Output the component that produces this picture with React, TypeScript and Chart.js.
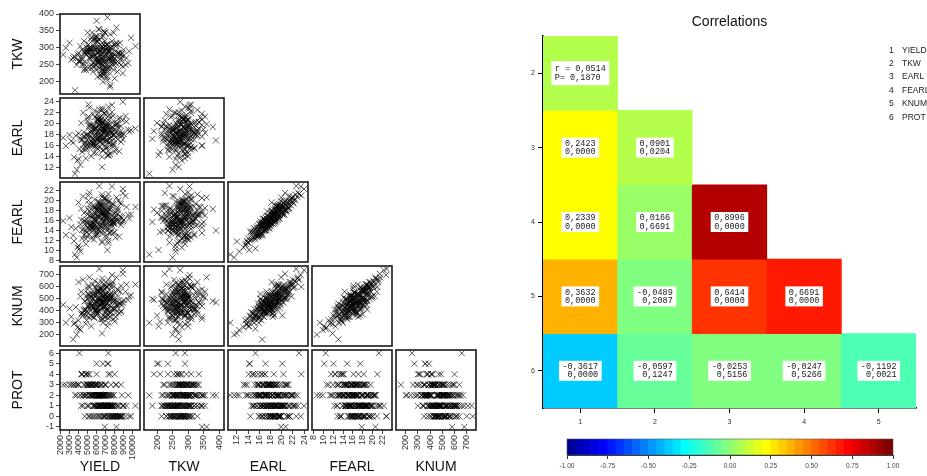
import React, { useEffect, useRef } from 'react';
import { Chart, registerables } from 'chart.js';

Chart.register(...registerables);

const FONT = '"Liberation Sans", Arial, Helvetica, sans-serif';
const MONO = '"Liberation Mono", "Courier New", monospace';

// ---- observations (one value per plant, same order in every array) ----
const YIELD = [
  8800, 4300, 7600, 6200, 5100, 8100, 6900, 5800, 7300, 6600,
  6000, 7100, 5500, 6800, 6500, 3900, 7900, 6900, 4800, 8400,
  6100, 4600, 9300, 8200, 6700, 5200, 5600, 7700, 7000, 6300,
  5700, 7400, 6600, 8600, 5300, 6400, 7200, 4200, 7800, 5900,
  6900, 9000, 4500, 6000, 5400, 7500, 6200, 8000, 6700, 5000,
  6600, 5900, 7000, 7400, 4900, 8300, 6300, 3500, 7600, 5800,
  7100, 4700, 6100, 8700, 5200, 7900, 5600, 6800, 7300, 6500,
  6400, 5700, 8000, 6900, 3800, 7700, 5300, 6600, 7200, 4400,
  9500, 6300, 5100, 7600, 6800, 6000, 7000, 5900, 8500, 6200,
  6700, 7100, 5500, 7400, 6200, 4000, 8100, 6500, 5800, 8900,
  7200, 10300, 3400, 6300, 2300, 3600, 9800, 6700, 4100, 8200,
  5000, 9200, 3000, 7500, 5400, 6900, 6000, 8700, 7300, 4900,
  5200, 7800, 6100, 8900, 4600, 7000, 5600, 6800, 7500, 5900,
  6400, 8300, 4900, 7200, 6000, 6900, 5400, 7700, 4200, 6600,
  8000, 5700, 6300, 7300, 3700, 6700, 5000, 8600, 6200, 7100,
  5500, 7600, 6500, 4400, 6900, 8100, 5800, 7400, 6000, 5300,
  7000, 6400, 8400, 5100, 6700, 7900, 4800, 6200, 7300, 5600,
  6600, 7100, 5900, 8800, 4500, 6800, 7500, 5200, 6100, 7700,
  6300, 5000, 7200, 6900, 8200, 5700, 6600, 4700, 7900, 6000,
  7400, 6100, 5400, 8700, 6500, 5800, 7000, 4300, 6800, 7600,
  5600, 6900, 8100, 6200, 4900, 7300, 6400, 5300, 7800, 6700,
  9600, 3200, 6000, 7500, 2600, 8900, 6600, 5100, 7200, 4000,
  6300, 7700, 5500, 6900, 8300, 4600, 6100, 7100, 5800, 6500,
  7400, 5200, 8500, 6700, 4800, 7000, 6200, 7900, 5600, 6400,
];
const TKW = [
  285, 270, 300, 255, 290, 310, 240, 275, 265, 330,
  320, 230, 295, 260, 300, 280, 250, 345, 235, 285,
  215, 290, 270, 315, 260, 300, 245, 305, 280, 355,
  300, 265, 225, 280, 290, 250, 310, 260, 275, 335,
  270, 295, 255, 320, 240, 300, 285, 210, 265, 345,
  280, 250, 305, 270, 290, 230, 325, 275, 260, 295,
  310, 240, 285, 265, 300, 345, 255, 220, 290, 270,
  280, 305, 260, 290, 250, 320, 275, 235, 300, 265,
  255, 290, 310, 280, 230, 270, 295, 325, 285, 265,
  250, 310, 275, 245, 300, 260, 290, 215, 330, 275,
  390, 305, 270, 240, 280, 175, 330, 200, 260, 360,
  285, 250, 315, 190, 300, 345, 235, 270, 290, 255,
  300, 260, 285, 245, 320, 275, 230, 350, 290, 265,
  255, 310, 280, 215, 335, 295, 250, 270, 305, 240,
  280, 325, 260, 300, 270, 235, 290, 315, 255, 285,
  345, 275, 220, 295, 260, 305, 280, 245, 330, 270,
  250, 310, 285, 240, 300, 265, 290, 355, 230, 275,
  295, 260, 315, 280, 250, 225, 340, 270, 300, 285,
  265, 295, 240, 320, 275, 255, 305, 285, 235, 270,
  290, 260, 330, 250, 280, 300, 215, 275, 310, 265,
  285, 345, 255, 270, 300, 240, 290, 325, 275, 250,
  290, 265, 380, 185, 300, 225, 270, 310, 205, 285,
  295, 250, 275, 305, 260, 235, 320, 280, 245, 290,
  270, 300, 255, 335, 280, 240, 260, 310, 290, 220,
];
const EARL = [
  18.2, 20.1, 16.0, 17.5, 21.3, 15.2, 19.0, 18.8, 14.1, 22.5,
  17.0, 19.6, 16.6, 18.4, 20.7, 13.2, 18.0, 21.8, 15.8, 19.3,
  17.8, 16.2, 20.4, 18.6, 15.0, 19.9, 17.2, 23.4, 16.9, 18.3,
  14.6, 19.4, 17.4, 21.0, 16.4, 18.9, 20.0, 12.4, 17.9, 19.1,
  16.8, 18.1, 22.0, 15.6, 19.7, 17.3, 20.9, 14.8, 18.5, 17.6,
  19.8, 16.1, 18.7, 21.5, 15.4, 17.1, 20.3, 13.8, 18.2, 19.2,
  17.7, 16.5, 20.6, 18.0, 22.9, 15.9, 19.5, 17.2, 14.3, 18.6,
  21.2, 16.7, 19.0, 17.5, 11.5, 20.2, 18.4, 16.3, 19.6, 17.0,
  18.9, 20.5, 15.7, 17.6, 19.3, 16.0, 21.6, 18.1, 14.9, 19.8,
  17.3, 22.3, 16.6, 18.7, 20.8, 13.5, 18.3, 19.4, 17.8, 24.0,
  16.9, 19.1, 16.5, 22.6, 17.4, 10.8, 18.8, 20.1, 15.3, 19.9,
  16.2, 21.4, 17.9, 18.6, 14.0, 20.7, 17.1, 19.5, 23.1, 16.4,
  19.5, 16.3, 20.8, 17.1, 18.4, 15.5, 21.7, 18.9, 14.4, 19.2,
  17.6, 19.9, 16.9, 18.2, 20.3, 15.9, 18.7, 22.1, 17.3, 13.9,
  18.0, 19.6, 16.7, 20.6, 17.8, 15.1, 21.0, 18.5, 17.0, 19.3,
  16.0, 18.6, 20.0, 14.8, 17.4, 19.7, 22.4, 16.4, 18.3, 17.5,
  18.8, 15.7, 20.9, 17.9, 19.1, 16.2, 13.6, 21.3, 18.1, 17.2,
  20.2, 16.8, 19.0, 17.7, 15.3, 18.9, 21.1, 16.5, 18.4, 19.4,
  17.1, 20.5, 15.6, 18.3, 19.8, 16.1, 22.8, 17.6, 18.7, 14.5,
  19.0, 17.3, 18.6, 16.6, 20.4, 15.8, 19.5, 17.0, 21.9, 18.1,
  16.3, 19.7, 17.5, 20.7, 18.0, 15.0, 19.2, 17.8, 21.4, 16.9,
  18.5, 16.8, 19.4, 17.2, 15.9, 20.6, 12.0, 23.5, 14.2, 18.2,
  17.4, 19.3, 16.0, 18.8, 20.1, 17.7, 15.4, 19.8, 21.2, 18.0,
  16.6, 19.6, 17.9, 20.3, 15.2, 18.4, 22.0, 17.1, 18.9, 16.7,
];
const FEARL = [
  16.5, 18.4, 13.8, 15.2, 20.0, 12.6, 17.8, 16.0, 11.5, 21.2,
  15.9, 17.1, 14.8, 17.3, 19.0, 10.6, 15.4, 20.5, 14.0, 18.1,
  16.8, 13.1, 18.7, 15.8, 13.4, 19.2, 14.5, 22.8, 15.1, 17.0,
  12.2, 16.9, 16.3, 19.6, 14.2, 18.0, 17.6, 9.8, 15.6, 17.4,
  14.9, 16.1, 20.8, 13.0, 18.3, 15.0, 18.9, 13.7, 17.7, 14.6,
  17.9, 14.4, 16.6, 19.8, 12.9, 16.0, 19.4, 11.9, 15.5, 18.6,
  15.7, 15.3, 18.2, 16.7, 21.6, 13.5, 17.2, 15.9, 12.0, 17.5,
  19.1, 15.5, 16.4, 16.9, 8.6, 18.8, 15.3, 14.7, 18.5, 14.1,
  17.1, 19.7, 14.3, 16.2, 16.8, 13.3, 20.3, 16.4, 12.8, 18.4,
  15.8, 20.1, 15.6, 17.4, 18.0, 11.0, 16.6, 18.9, 15.1, 22.3,
  14.0, 18.7, 13.0, 22.9, 15.9, 9.2, 17.2, 17.5, 10.4, 20.6,
  15.4, 20.9, 16.5, 18.2, 12.4, 17.8, 14.8, 19.3, 21.3, 13.6,
  17.0, 14.8, 18.1, 15.9, 17.5, 14.6, 19.0, 15.7, 13.6, 18.8,
  14.5, 18.6, 16.2, 17.9, 17.1, 12.8, 16.6, 19.4, 15.2, 11.6,
  17.4, 16.3, 15.7, 19.8, 14.4, 13.9, 18.3, 16.9, 14.0, 19.1,
  15.3, 15.9, 18.9, 12.4, 16.8, 17.6, 20.2, 13.5, 18.0, 15.0,
  16.1, 14.9, 20.0, 15.5, 17.3, 15.8, 11.3, 18.5, 17.8, 14.1,
  17.7, 16.4, 16.0, 15.6, 14.2, 19.0, 18.7, 13.2, 16.7, 17.0,
  16.6, 17.2, 12.7, 17.1, 18.1, 15.2, 20.7, 15.8, 15.4, 13.8,
  18.2, 14.3, 17.0, 15.1, 19.5, 13.0, 16.5, 16.1, 20.4, 15.3,
  14.8, 17.4, 16.9, 18.0, 15.6, 14.5, 18.9, 14.9, 19.3, 15.4,
  16.4, 14.7, 18.3, 15.7, 13.1, 21.5, 11.8, 21.0, 10.1, 19.6,
  17.8, 16.2, 14.4, 18.5, 17.3, 16.0, 13.3, 19.9, 18.4, 15.0,
  16.3, 17.9, 15.9, 18.8, 12.3, 17.1, 19.7, 15.6, 16.8, 13.9,
];
const KNUM = [
  470, 560, 390, 430, 610, 350, 500, 520, 300, 640,
  410, 540, 450, 430, 590, 260, 480, 520, 410, 570,
  460, 370, 620, 440, 330, 530, 500, 700, 390, 510,
  340, 480, 420, 560, 460, 450, 600, 240, 530, 470,
  350, 490, 660, 420, 510, 380, 540, 310, 560, 440,
  580, 400, 470, 620, 360, 450, 500, 290, 520, 540,
  410, 480, 570, 390, 680, 330, 530, 500, 360, 460,
  590, 420, 550, 430, 200, 610, 400, 470, 500, 380,
  490, 560, 350, 520, 470, 430, 640, 410, 380, 590,
  460, 600, 440, 530, 510, 320, 480, 550, 400, 740,
  470, 620, 160, 750, 450, 300, 530, 360, 250, 680,
  540, 560, 420, 490, 270, 580, 390, 610, 660, 320,
  540, 420, 500, 470, 410, 380, 620, 520, 350, 450,
  500, 480, 390, 560, 470, 440, 360, 590, 520, 330,
  410, 560, 480, 510, 430, 300, 580, 460, 400, 600,
  350, 500, 490, 380, 540, 420, 650, 450, 370, 470,
  610, 330, 520, 440, 470, 500, 290, 560, 430, 510,
  530, 400, 590, 450, 360, 480, 540, 420, 380, 620,
  460, 500, 410, 530, 450, 350, 670, 480, 420, 390,
  480, 560, 440, 400, 590, 460, 500, 370, 610, 430,
  500, 470, 380, 560, 520, 340, 410, 450, 640, 430,
  520, 350, 480, 500, 300, 710, 210, 600, 270, 640,
  490, 550, 420, 440, 580, 400, 370, 520, 600, 470,
  390, 510, 460, 570, 410, 350, 630, 480, 540, 440,
];
const PROT = [
  2, 1, 3, 1, 0, 3, 2, 0, 4, 1,
  2, 1, 3, 0, 2, 3, 1, 2, 4, 0,
  1, 2, 1, 3, 2, 0, 1, 0, 3, 2,
  1, 2, 3, 0, 2, 1, 1, 2, 0, 3,
  2, 1, 1, 3, 0, 2, 2, 4, 0, 1,
  2, 1, 3, 1, 2, 0, 2, 3, 1, 3,
  2, 0, 1, 3, 1, 2, 0, 2, 5, 1,
  2, 1, 0, 3, 2, 1, 2, 1, 0, 4,
  2, 1, 3, 2, 1, 0, 2, 3, 1, 0,
  2, 1, 3, 1, 2, 3, 0, 2, 1, 1,
  2, 1, 3, 0, 3, 2, 0, 5, 6, -1,
  1, 0, 3, 4, 2, -1, 5, 0, 6, 4,
  2, 1, 3, 0, 3, 1, 2, 2, 0, 1,
  3, 1, 2, 1, 4, 0, 3, 1, 2, 2,
  0, 2, 1, 2, 3, 1, 3, 0, 2, 1,
  2, 0, 3, 4, 1, 1, 2, 0, 2, 3,
  1, 2, 0, 3, 1, 2, 2, 1, 0, 3,
  2, 1, 3, 0, 2, 1, 1, 4, 2, 0,
  2, 3, 1, 1, 0, 2, 2, 3, 1, 2,
  1, 2, 3, 0, 1, 2, 0, 4, 2, 1,
  2, 1, 0, 3, 3, 1, 2, 2, 0, 1,
  0, 3, 2, 1, 3, 1, 2, 4, 5, 3,
  1, 2, 3, 0, 1, 2, 2, 1, 3, 0,
  1, 3, 0, 2, 4, 1, 2, 0, 2, 1,
];

const VAR_NAMES = ['YIELD', 'TKW', 'EARL', 'FEARL', 'KNUM', 'PROT'];
const VAR_DATA = [YIELD, TKW, EARL, FEARL, KNUM, PROT];

// ---- tick labels ----
const YIELD_TICKS = [2000, 3000, 4000, 5000, 6000, 7000, 8000, 9000, 10000];
const TKW_TICKS = [200, 250, 300, 350, 400];
const EARL_TICKS = [12, 14, 16, 18, 20, 22, 24];
const FEARL_TICKS = [8, 10, 12, 14, 16, 18, 20, 22];
const KNUM_TICKS = [200, 300, 400, 500, 600, 700];
const PROT_TICKS = [-1, 0, 1, 2, 3, 4, 5, 6];
const VAR_TICKS = [YIELD_TICKS, TKW_TICKS, EARL_TICKS, FEARL_TICKS, KNUM_TICKS, PROT_TICKS];

// axis ranges when the variable is on the x axis / on the y axis
const X_RANGES: (number[] | null)[] = [[1950, 10800], [158, 416], [10.4, 24.7], [7.6, 24], [120, 776], null];
const Y_RANGES: (number[] | null)[] = [null, [164, 400], [10, 24.7], [7.7, 23.7], [105, 775], [-1.3, 6.3]];

// ---- correlation table ----
const HM_ROWS = [2, 3, 4, 5, 6];
const HM_COLS = ['1', '2', '3', '4', '5'];
const R_ROW2 = [0.0514];
const P_ROW2 = [0.1870];
const R_ROW3 = [0.2423, 0.0901];
const P_ROW3 = [0.0000, 0.0204];
const R_ROW4 = [0.2339, 0.0166, 0.8996];
const P_ROW4 = [0.0000, 0.6691, 0.0000];
const R_ROW5 = [0.3632, -0.0489, 0.6414, 0.6691];
const P_ROW5 = [0.0000, 0.2087, 0.0000, 0.0000];
const R_ROW6 = [-0.3617, -0.0597, -0.0253, -0.0247, -0.1192];
const P_ROW6 = [0.0000, 0.1247, 0.5156, 0.5266, 0.0021];
const HM_R = [R_ROW2, R_ROW3, R_ROW4, R_ROW5, R_ROW6];
const HM_P = [P_ROW2, P_ROW3, P_ROW4, P_ROW5, P_ROW6];
const CB_TICKS = [-1, -0.75, -0.5, -0.25, 0, 0.25, 0.5, 0.75, 1];
const CB_STEP = 0.05;

// ---- layout ----
const PANEL_LEFT = 60;
const PANEL_TOP = 14;
const SIZE = 80;
const PITCH = 84;

function jet(v: number): string {
  const t = (v + 1) / 2;
  const c = (x: number) => Math.round(255 * Math.max(0, Math.min(1, x)));
  return `rgb(${c(1.5 - Math.abs(4 * t - 3))},${c(1.5 - Math.abs(4 * t - 2))},${c(1.5 - Math.abs(4 * t - 1))})`;
}
const binTop = (v: number) => Math.min(1, Math.ceil(v / CB_STEP - 1e-9) * CB_STEP);
const fmt = (v: number) => v.toFixed(4).replace('.', ',');

const boxPlugin = {
  id: 'panelBox',
  afterDraw(chart: any) {
    const { ctx, chartArea: a } = chart;
    ctx.save();
    ctx.strokeStyle = '#262626';
    ctx.lineWidth = 1.7;
    ctx.strokeRect(a.left, a.top, a.right - a.left, a.bottom - a.top);
    ctx.restore();
  },
};

function ScatterPanel({ xi, yi }: { xi: number; yi: number }) {
  const ref = useRef<HTMLCanvasElement>(null);
  const showY = xi === 0;
  const showX = yi === 5;
  const padL = showY ? 60 : 10;
  const padB = showX ? 46 : 10;
  const pad = 10;
  const w = padL + SIZE + pad;
  const h = pad + SIZE + padB;
  const left = PANEL_LEFT + xi * PITCH - padL;
  const top = PANEL_TOP + (yi - 1) * PITCH - pad;

  useEffect(() => {
    const xs = VAR_DATA[xi];
    const ys = VAR_DATA[yi];
    const pts = xs.map((x, i) => ({ x, y: ys[i] }));
    const xr = X_RANGES[xi] as number[];
    const yr = Y_RANGES[yi] as number[];
    const chart = new Chart(ref.current as HTMLCanvasElement, {
      type: 'scatter',
      data: {
        datasets: [
          {
            data: pts,
            pointStyle: 'crossRot',
            pointRadius: 4.3,
            pointBorderColor: 'rgba(0,0,0,0.68)',
            pointBorderWidth: 0.95,
            pointBackgroundColor: 'rgba(0,0,0,0)',
          } as any,
        ],
      },
      options: {
        animation: false,
        responsive: false,
        events: [],
        layout: {
          padding: { left: showY ? 0 : pad, right: pad, top: pad, bottom: showX ? 0 : pad },
          autoPadding: false,
        } as any,
        plugins: { legend: { display: false }, tooltip: { enabled: false } },
        scales: {
          x: {
            type: 'linear',
            min: xr[0],
            max: xr[1],
            display: showX,
            afterBuildTicks: (s: any) => {
              s.ticks = VAR_TICKS[xi].map((v) => ({ value: v }));
            },
            afterFit: (s: any) => {
              if (showX) s.height = 46;
            },
            ticks: {
              autoSkip: false,
              minRotation: 90,
              maxRotation: 90,
              padding: 1,
              color: '#333',
              font: { family: FONT, size: 9 },
              callback: (v: any) => String(v),
            },
            grid: { drawOnChartArea: false, drawTicks: true, tickLength: 4, color: '#444' },
            border: { display: false },
            title: {
              display: true,
              text: VAR_NAMES[xi],
              color: '#111',
              font: { family: FONT, size: 14 },
              padding: { top: 0, bottom: 0 },
            },
          },
          y: {
            type: 'linear',
            min: yr[0],
            max: yr[1],
            display: showY,
            afterBuildTicks: (s: any) => {
              s.ticks = VAR_TICKS[yi].map((v) => ({ value: v }));
            },
            afterFit: (s: any) => {
              if (showY) s.width = 60;
            },
            ticks: {
              autoSkip: false,
              padding: 2,
              color: '#333',
              font: { family: FONT, size: 9 },
              callback: (v: any) => String(v),
            },
            grid: { drawOnChartArea: false, drawTicks: true, tickLength: 4, color: '#444' },
            border: { display: false },
            title: {
              display: true,
              text: VAR_NAMES[yi],
              color: '#111',
              font: { family: FONT, size: 14 },
              padding: { top: 10, bottom: 0 },
            },
          },
        },
      } as any,
      plugins: [boxPlugin],
    });
    return () => chart.destroy();
  }, []);

  return (
    <canvas
      ref={ref}
      width={w}
      height={h}
      style={{ position: 'absolute', left, top, width: w, height: h }}
    />
  );
}

const cellTextPlugin = {
  id: 'cellText',
  afterDatasetsDraw(chart: any) {
    const { ctx } = chart;
    ctx.save();
    ctx.font = `8.5px ${MONO}`;
    ctx.textBaseline = 'middle';
    ctx.textAlign = 'left';
    HM_R.forEach((rowR, ri) => {
      const meta = chart.getDatasetMeta(ri);
      rowR.forEach((r, ci) => {
        const el = meta.data[ci];
        if (!el) return;
        const p = HM_P[ri][ci];
        const lines =
          ri === 0 && ci === 0
            ? ['r = ' + fmt(r), 'P= ' + fmt(p)]
            : [fmt(r), (r < 0 ? ' ' : '') + fmt(p)];
        const { x, y, base } = el.getProps(['x', 'y', 'base'], true);
        const cy = (y + base) / 2;
        const tw = Math.max(...lines.map((l) => ctx.measureText(l).width));
        const padX = 3.5;
        const bw = tw + padX * 2;
        const bh = ri === 0 && ci === 0 ? 24 : 20;
        ctx.fillStyle = '#fff';
        ctx.fillRect(x - bw / 2, cy - bh / 2, bw, bh);
        ctx.fillStyle = '#1a1a1a';
        ctx.fillText(lines[0], x - bw / 2 + padX, cy - 4);
        ctx.fillText(lines[1], x - bw / 2 + padX, cy + 4.3);
      });
    });
    ctx.restore();
  },
};

function Heatmap() {
  const ref = useRef<HTMLCanvasElement>(null);
  useEffect(() => {
    const datasets = HM_ROWS.map((row, ri) => ({
      data: HM_COLS.map((_, ci) => (ci < HM_R[ri].length ? [row - 0.5, row + 0.5] : null)),
      backgroundColor: HM_COLS.map((_, ci) =>
        ci < HM_R[ri].length ? jet(binTop(HM_R[ri][ci])) : 'rgba(0,0,0,0)'
      ),
      borderWidth: 0,
      barPercentage: 1,
      categoryPercentage: 1,
      grouped: false,
    }));
    const chart = new Chart(ref.current as HTMLCanvasElement, {
      type: 'bar',
      data: { labels: HM_COLS, datasets: datasets as any },
      options: {
        animation: false,
        responsive: false,
        events: [],
        layout: { padding: { left: 0, right: 11, top: 0, bottom: 0 } },
        plugins: {
          legend: { display: false },
          tooltip: { enabled: false },
          title: {
            display: true,
            text: 'Correlations',
            fullSize: false,
            color: '#111',
            font: { family: FONT, size: 14, weight: 'normal' },
            padding: { top: 14, bottom: 5.2 },
          },
        },
        scales: {
          x: {
            type: 'category',
            offset: true,
            afterFit: (s: any) => {
              s.height = 24;
            },
            ticks: { color: '#333', padding: 5, font: { family: FONT, size: 7 } },
            grid: { offset: false, drawOnChartArea: false, tickLength: 5, color: '#000' },
            border: { color: '#000', width: 1.6 },
          },
          y: {
            type: 'linear',
            min: 1.5,
            max: 6.5,
            reverse: true,
            afterBuildTicks: (s: any) => {
              s.ticks = HM_ROWS.map((v) => ({ value: v }));
            },
            afterFit: (s: any) => {
              s.width = 33;
            },
            ticks: { color: '#333', padding: 3, font: { family: FONT, size: 7 } },
            grid: { drawOnChartArea: false, tickLength: 5, color: '#000' },
            border: { color: '#000', width: 1.6 },
          },
        },
      } as any,
      plugins: [cellTextPlugin],
    });
    return () => chart.destroy();
  }, []);
  return (
    <canvas
      ref={ref}
      width={417}
      height={432}
      style={{ position: 'absolute', left: 510, top: 0, width: 417, height: 432 }}
    />
  );
}

const cbBorder = {
  id: 'cbBorder',
  afterDraw(chart: any) {
    const { ctx, chartArea: a } = chart;
    ctx.save();
    ctx.strokeStyle = '#555';
    ctx.lineWidth = 0.6;
    ctx.strokeRect(a.left, a.top, a.right - a.left, a.bottom - a.top);
    ctx.restore();
  },
};

function ColorBar() {
  const ref = useRef<HTMLCanvasElement>(null);
  useEffect(() => {
    const n = Math.round(2 / CB_STEP);
    const centers = Array.from({ length: n }, (_, i) => -1 + CB_STEP * (i + 0.5));
    const chart = new Chart(ref.current as HTMLCanvasElement, {
      type: 'bar',
      data: {
        datasets: [
          {
            data: centers.map((x) => ({ x, y: 1 })),
            backgroundColor: centers.map((x) => jet(binTop(x + CB_STEP / 2 - 1e-6))),
            borderWidth: 0,
            barPercentage: 1,
            categoryPercentage: 1,
          } as any,
        ],
      },
      options: {
        animation: false,
        responsive: false,
        events: [],
        layout: { padding: { left: 15, right: 15, top: 5, bottom: 0 } },
        plugins: { legend: { display: false }, tooltip: { enabled: false } },
        scales: {
          x: {
            type: 'linear',
            min: -1,
            max: 1,
            offset: false,
            afterBuildTicks: (s: any) => {
              s.ticks = CB_TICKS.map((v) => ({ value: v }));
            },
            afterFit: (s: any) => {
              s.height = 21;
            },
            ticks: {
              color: '#444',
              padding: 3,
              font: { family: FONT, size: 6.5 },
              callback: (v: any) => Number(v).toFixed(2),
            },
            grid: { offset: false, drawOnChartArea: false, tickLength: 4, color: '#333' },
            border: { color: '#333', width: 1 },
          },
          y: { display: false, min: 0, max: 1 },
        },
      } as any,
      plugins: [cbBorder],
    });
    return () => chart.destroy();
  }, []);
  return (
    <canvas
      ref={ref}
      width={356}
      height={42}
      style={{ position: 'absolute', left: 552, top: 434, width: 356, height: 42 }}
    />
  );
}

function VarLegend() {
  return (
    <>
      {VAR_NAMES.map((name, i) => (
        <div
          key={name}
          style={{
            position: 'absolute',
            left: 886,
            top: 44.5 + i * 13.4,
            font: `8.5px ${FONT}`,
            color: '#222',
            whiteSpace: 'nowrap',
            lineHeight: '11px',
          }}
        >
          <span style={{ display: 'inline-block', width: 16, textAlign: 'left', paddingLeft: 3, boxSizing: 'border-box' }}>
            {i + 1}
          </span>
          {name}
        </div>
      ))}
    </>
  );
}

export default function App() {
  const panels: { xi: number; yi: number }[] = [];
  for (let yi = 1; yi <= 5; yi++) {
    for (let xi = 0; xi < yi; xi++) panels.push({ xi, yi });
  }
  return (
    <div
      style={{
        position: 'absolute',
        left: 0,
        top: 0,
        width: 927,
        height: 476,
        overflow: 'hidden',
        background: '#fff',
        fontFamily: FONT,
      }}
    >
      {panels.map((p) => (
        <ScatterPanel key={`${p.xi}-${p.yi}`} xi={p.xi} yi={p.yi} />
      ))}
      <Heatmap />
      <ColorBar />
      <VarLegend />
    </div>
  );
}
